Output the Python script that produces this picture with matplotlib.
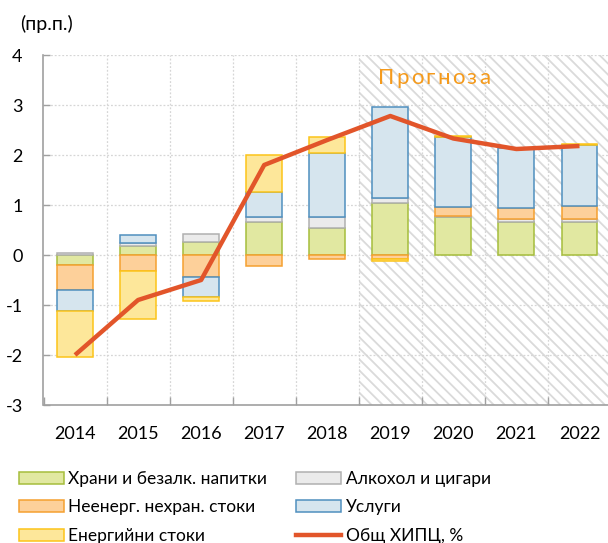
import matplotlib
matplotlib.use("Agg")
import matplotlib.pyplot as plt
import numpy as np
from matplotlib.patches import Patch
from matplotlib.lines import Line2D

plt.rcParams['font.family'] = ['Lato', 'DejaVu Sans']
plt.rcParams['hatch.linewidth'] = 1.3
plt.rcParams['hatch.color'] = '#dadada'

years = ['2014', '2015', '2016', '2017', '2018', '2019', '2020', '2021', '2022']
food = [-0.20, 0.18, 0.26, 0.67, 0.55, 1.04, 0.76, 0.67, 0.67]
alcohol = [0.05, 0.06, 0.16, 0.10, 0.22, 0.10, 0.03, 0.05, 0.05]
nonenergy = [-0.50, -0.32, -0.44, -0.21, -0.07, -0.08, 0.17, 0.22, 0.27]
services = [-0.42, 0.16, -0.39, 0.49, 1.28, 1.82, 1.40, 1.21, 1.22]
energy = [-0.91, -0.96, -0.09, 0.75, 0.32, -0.04, 0.02, 0.00, 0.02]
hicp = [-2.0, -0.9, -0.5, 1.8, 2.3, 2.78, 2.33, 2.12, 2.18]

labels = ['Храни и безалк. напитки', 'Алкохол и цигари', 'Неенерг. нехран. стоки',
          'Услуги', 'Енергийни стоки']
faces = ['#e1e8a1', '#ebebeb', '#fdd09a', '#d6e5ee', '#fde79a']
edges = ['#a5bd3c', '#b0b0b0', '#f5a030', '#4f8fbf', '#fcc419']
series = [food, alcohol, nonenergy, services, energy]

fig = plt.figure(figsize=(6.08, 5.43), dpi=100)
ax = fig.add_axes([43.5/608, (543-405)/543, (611-43.5)/608, 350/543])

x = np.arange(len(years))
ax.set_xlim(-0.5, len(years) - 0.5)
ax.set_ylim(-3, 4)

# forecast shading
ax.axvspan(4.5, len(years) - 0.5, facecolor='white', edgecolor='#dadada',
           hatch='\\\\\\', linewidth=0, zorder=0)

# grid
for yv in range(-2, 5):
    ax.axhline(yv, color='#d6d6d6', linestyle=(0, (1.5, 1.5)), linewidth=0.9, zorder=0.5)
for xv in np.arange(0.5, len(years) - 0.5, 1):
    ax.axvline(xv, color='#d6d6d6', linestyle=(0, (1.5, 1.5)), linewidth=0.9, zorder=0.5)

pos = np.zeros(len(years))
neg = np.zeros(len(years))
width = 0.57
for vals, fc, ec in zip(series, faces, edges):
    v = np.array(vals)
    for i, val in enumerate(v):
        if val == 0:
            continue
        if val > 0:
            b = pos[i]
            pos[i] += val
        else:
            b = neg[i]
            neg[i] += val
        ax.bar(x[i], val, bottom=b, width=width, facecolor=fc, edgecolor=ec,
               linewidth=1.1, zorder=2)

ax.plot(x, hicp, color='#e2552a', linewidth=3.2, zorder=3, solid_capstyle='butt')

# axes styling
for s in ['top', 'right']:
    ax.spines[s].set_visible(False)
for s in ['left', 'bottom']:
    ax.spines[s].set_color('#a0a0a0')
    ax.spines[s].set_linewidth(1.2)
ax.set_yticks(range(-3, 5))
ax.set_yticklabels([str(v) for v in range(-3, 5)])
ax.tick_params(axis='y', direction='in', length=5, width=1, color='#a0a0a0',
               pad=15, labelsize=13)
ax.set_xticks(np.arange(-0.5, len(years), 1), minor=False)
ax.set_xticklabels([])
ax.tick_params(axis='x', which='major', direction='in', length=6, width=1, color='#a0a0a0')
ax.set_xticks(x, minor=True)
ax.set_xticklabels(years, minor=True)
ax.tick_params(axis='x', which='minor', length=0, pad=15, labelsize=13)

fig.text(20/608, 1 - 24/543, '(пр.п.)', fontsize=14, va='center', ha='left')

# spaced "Прогноза" label
renderer = fig.canvas.get_renderer()
word = 'Прогноза'
x0, x1 = 378.0, 490.0
ybase = 1 - 84/543
chars = []
for ch in word:
    t = fig.text(0, ybase, ch, color='#f59a1b', fontsize=16, va='baseline', ha='left',
                 zorder=5)
    chars.append(t)
widths = [t.get_window_extent(renderer).width for t in chars]
gap = (x1 - x0 - sum(widths)) / (len(word) - 1)
cur = x0
for t, w in zip(chars, widths):
    t.set_x(cur / 608)
    cur += w + gap

handles = [Patch(facecolor=faces[0], edgecolor=edges[0], linewidth=1.1),
           Patch(facecolor=faces[2], edgecolor=edges[2], linewidth=1.1),
           Patch(facecolor=faces[4], edgecolor=edges[4], linewidth=1.1),
           Patch(facecolor=faces[1], edgecolor=edges[1], linewidth=1.1),
           Patch(facecolor=faces[3], edgecolor=edges[3], linewidth=1.1),
           Line2D([0], [0], color='#e2552a', linewidth=3.2)]
hl = [labels[0], labels[2], labels[4], labels[1], labels[3], 'Общ ХИПЦ, %']
fig.legend(handles, hl, ncol=2, loc='upper left', bbox_to_anchor=(12/608, 1 - 464/543),
           frameon=False, fontsize=12.5, handlelength=2.6, handleheight=0.7,
           handletextpad=0.25, columnspacing=1.65, labelspacing=0.72, borderaxespad=0)

fig.savefig('out.png', dpi=100)
